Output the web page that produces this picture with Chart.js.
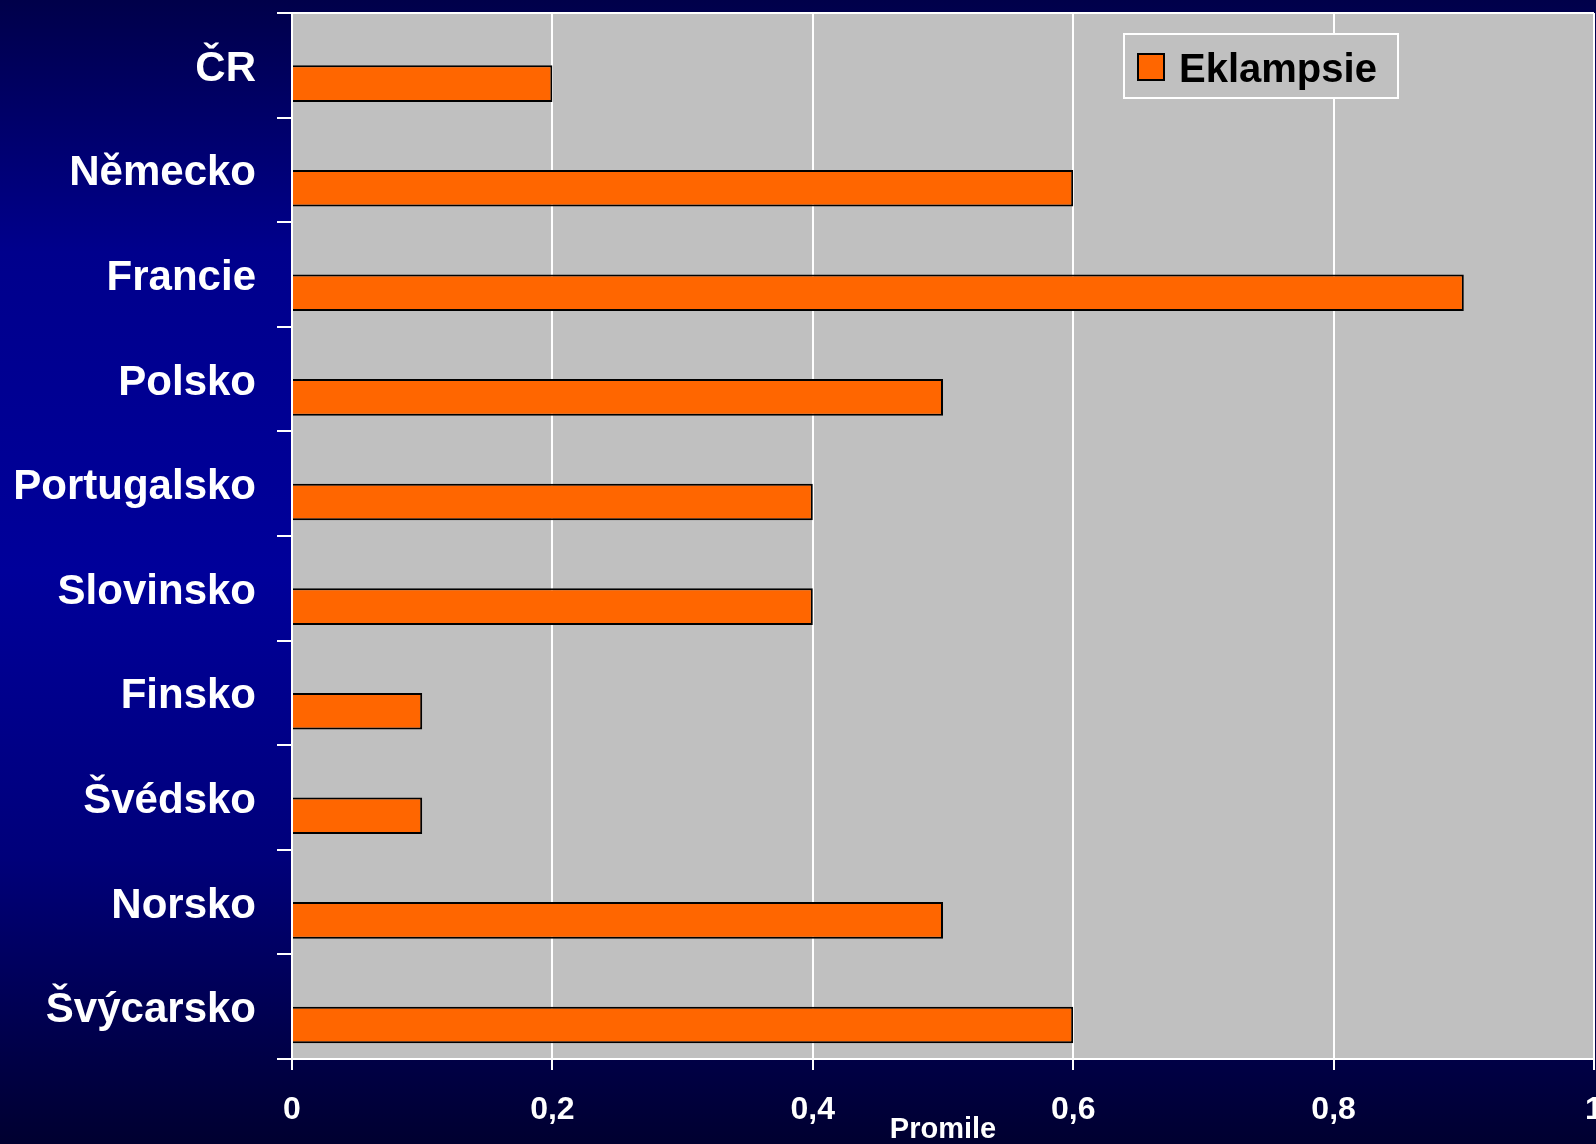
<!DOCTYPE html>
<html>
<head>
<meta charset="utf-8">
<title>Eklampsie</title>
<script src="https://cdn.jsdelivr.net/npm/chart.js@4.4.0/dist/chart.umd.min.js"></script>
<style>
    html, body { margin: 0; padding: 0; background: #000050; }
    #wrap { width: 1596px; height: 1144px; }
</style>
</head>
<body>
<div id="wrap"><canvas id="g-eklampsie" width="1596" height="1144"></canvas></div>
<script>
const countries = ['ČR', 'Německo', 'Francie', 'Polsko', 'Portugalsko', 'Slovinsko', 'Finsko', 'Švédsko', 'Norsko', 'Švýcarsko'];
const eklampsie = [0.2, 0.6, 0.9, 0.5, 0.4, 0.4, 0.1, 0.1, 0.5, 0.6];
// prazdna rada - v puvodnim grafu drzi horni polovinu kazde kategorie
const prazdna = [null, null, null, null, null, null, null, null, null, null];
const xTicks = ['0', '0,2', '0,4', '0,6', '0,8', '1'];

const font = "'Liberation Sans', Arial, sans-serif";

const pozadi = {
    id: 'pozadi',
    beforeDraw(chart) {
        const { ctx, width, height, chartArea: a } = chart;
        const grad = ctx.createLinearGradient(0, 0, 0, height);
        grad.addColorStop(0, '#00004a');
        grad.addColorStop(0.22, '#00008c');
        grad.addColorStop(0.5, '#00009a');
        grad.addColorStop(0.75, '#00007a');
        grad.addColorStop(1, '#000030');
        ctx.save();
        ctx.fillStyle = grad;
        ctx.fillRect(0, 0, width, height);
        ctx.fillStyle = '#c0c0c0';
        ctx.fillRect(a.left, a.top, a.right - a.left, a.bottom - a.top);
        ctx.restore();
    },
    beforeDatasetsDraw(chart) {
        const { ctx, chartArea: a } = chart;
        ctx.save();
        ctx.strokeStyle = '#ffffff';
        ctx.lineWidth = 2;
        ctx.beginPath();
        ctx.moveTo(a.left, a.top);
        ctx.lineTo(a.right, a.top);
        ctx.stroke();
        ctx.restore();
    },
    afterDraw(chart) {
        // legenda v ramecku uvnitr grafu
        const { ctx, chartArea: a } = chart;
        const ds = chart.data.datasets[1];
        const x = a.right - 470, y = a.top + 21, w = 274, h = 64;
        ctx.save();
        ctx.fillStyle = '#c0c0c0';
        ctx.fillRect(x, y, w, h);
        ctx.strokeStyle = '#ffffff';
        ctx.lineWidth = 2;
        ctx.strokeRect(x, y, w, h);
        ctx.fillStyle = ds.backgroundColor;
        ctx.fillRect(x + 14, y + 20, 26, 26);
        ctx.strokeStyle = '#000000';
        ctx.strokeRect(x + 14, y + 20, 26, 26);
        ctx.fillStyle = '#000000';
        ctx.font = `bold 40px ${font}`;
        ctx.textBaseline = 'alphabetic';
        ctx.textAlign = 'left';
        ctx.fillText(ds.label, x + 55, y + 48);
        ctx.restore();
    }
};

const ctx = document.getElementById('g-eklampsie').getContext('2d');

let config = {
    type: 'bar',
    data: {
        labels: countries,
        datasets: [
            {
                label: '',
                data: prazdna,
                backgroundColor: 'rgba(0,0,0,0)'
            },
            {
                label: 'Eklampsie',
                data: eklampsie,
                backgroundColor: '#ff6600',
                borderColor: '#000000',
                borderWidth: 2
            }
        ]
    },
    options: {
        indexAxis: 'y',
        responsive: false,
        animation: false,
        categoryPercentage: 0.7,
        barPercentage: 1,
        layout: {
            padding: { top: 13, left: 0, right: 2, bottom: 0 }
        },
        plugins: {
            legend: { display: false },
            tooltip: { enabled: false }
        },
        scales: {
            x: {
                min: 0,
                max: 1,
                ticks: {
                    stepSize: 0.2,
                    color: '#ffffff',
                    padding: 21,
                    font: { family: font, size: 32, weight: 'bold' },
                    callback: (v, i) => xTicks[i]
                },
                grid: {
                    color: '#ffffff',
                    lineWidth: 2,
                    tickLength: 11
                },
                border: { color: '#ffffff', width: 2 },
                title: {
                    display: true,
                    text: 'Promile',
                    color: '#ffffff',
                    font: { family: font, size: 29, weight: 'bold', lineHeight: 1 },
                    padding: { top: 0, bottom: 0 }
                },
                afterFit: s => { s.paddingRight = 0; s.paddingLeft = 0; s.height = 85; }
            },
            y: {
                ticks: {
                    color: '#ffffff',
                    padding: 21,
                    labelOffset: 4,
                    font: { family: font, size: 42, weight: 'bold' }
                },
                grid: {
                    color: '#ffffff',
                    lineWidth: 2,
                    tickLength: 15,
                    drawOnChartArea: false
                },
                border: { color: '#ffffff', width: 2 },
                afterFit: s => { s.width = 292; s.paddingTop = 0; s.paddingBottom = 0; }
            }
        }
    },
    plugins: [pozadi]
};

const grafica = new Chart(ctx, config);
</script>
</body>
</html>
